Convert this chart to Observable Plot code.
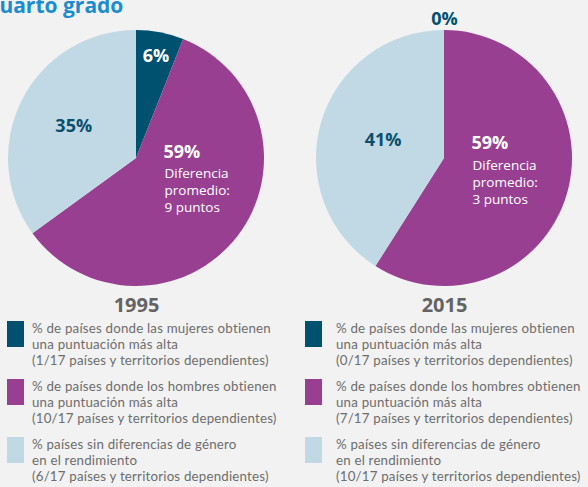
<!DOCTYPE html>
<html>
<head>
<meta charset="utf-8">
<script src="https://cdn.jsdelivr.net/npm/d3@7"></script>
<script src="https://cdn.jsdelivr.net/npm/@observablehq/plot@0.6"></script>
<style>
  html, body { margin: 0; padding: 0; background: #f2f2f2; }
  body { width: 588px; height: 487px; overflow: hidden; position: relative; font-family: "Open Sans", sans-serif; }
  #title { position: absolute; left: -14px; top: -9px; font-size: 21px; font-weight: bold; color: #1a8ccf; white-space: nowrap; }
  #chart { position: absolute; left: 0; top: 0; }
  .legend { position: absolute; top: 320px; }
  .item { display: flex; align-items: flex-start; margin-bottom: 10px; }
  .sw { width: 17px; height: 26px; flex: none; margin-top: 1px; }
  .txt { font-family: Lato, sans-serif; font-size: 13.3px; line-height: 16px; color: #6d6d6d; white-space: nowrap; letter-spacing: 0.2px; }
</style>
</head>
<body>
<div id="title">Cuarto grado</div>
<div id="chart"></div>
<div class="legend" id="legL" style="left:7px"></div>
<div class="legend" id="legR" style="left:305px"></div>
<script>
const years = ["1995", "2015"];
const categories = ["mujeres", "hombres", "sin diferencia"];
const values1995 = [6, 59, 35];
const values2015 = [0, 59, 41];
const pctLabels1995 = ["6%", "59%", "35%"];
const pctLabels2015 = ["0%", "59%", "41%"];
const gapText1995 = "Diferencia\npromedio:\n9 puntos";
const gapText2015 = "Diferencia\npromedio:\n3 puntos";
const legendMain = [
  ["% de países donde las mujeres obtienen", "una puntuación más alta"],
  ["% de países donde los hombres obtienen", "una puntuación más alta"],
  ["% países sin diferencias de género", "en el rendimiento"]
];
const legendCounts1995 = ["(1/17 países y territorios dependientes)", "(10/17 países y territorios dependientes)", "(6/17 países y territorios dependientes)"];
const legendCounts2015 = ["(0/17 países y territorios dependientes)", "(7/17 países y territorios dependientes)", "(10/17 países y territorios dependientes)"];

const colors = ["#00506f", "#993f92", "#c0d9e5"];
const textColors = ["#ffffff", "#ffffff", "#0b4f6c"];

const valuesByYear = {"1995": values1995, "2015": values2015};
const pctByYear = {"1995": pctLabels1995, "2015": pctLabels2015};
const gapByYear = {"1995": gapText1995, "2015": gapText2015};
const countsByYear = {"1995": legendCounts1995, "2015": legendCounts2015};

const W = 588, H = 316, R = 128, CY = 158;

// slices
const slices = [];
for (const year of years) {
  const arcs = d3.pie().sort(null).value(d => d)(valuesByYear[year]);
  arcs.forEach((a, i) => slices.push({year, cat: categories[i], i, start: a.startAngle, end: a.endAngle, value: a.data}));
}

// label placement (layout): radius factor for % labels
const labelRadius = {"1995": [0.81, null, 0.55], "2015": [1.09, null, 0.5]};
const pctRows = [];
for (const s of slices) {
  const f = labelRadius[s.year][s.i];
  if (f == null) continue;
  const mid = (s.start + s.end) / 2;
  pctRows.push({year: s.year, text: pctByYear[s.year][s.i], dx: Math.sin(mid) * R * f, dy: -Math.cos(mid) * R * f,
    color: s.value === 0 ? colors[0] : textColors[s.i]});
}
const bigDy = {"1995": -1, "2015": -10};
const gapDy = {"1995": 7.4, "2015": -0.6};

const pieMark = (index, scales) => {
  const g = d3.create("svg:g");
  const arc = d3.arc().innerRadius(0).outerRadius(R);
  for (const s of slices) {
    const cx = scales.x(s.year);
    g.append("path")
      .attr("transform", `translate(${cx},${CY})`)
      .attr("d", arc({startAngle: s.start, endAngle: s.end}))
      .attr("fill", colors[s.i])
      .attr("stroke", s.value === 0 ? colors[s.i] : "none")
      .attr("stroke-width", s.value === 0 ? 2.2 : 0);
  }
  return g.node();
};

const plot = Plot.plot({
  width: W,
  height: H,
  marginLeft: 136,
  marginRight: 144,
  marginTop: 0,
  marginBottom: 0,
  style: {background: "transparent", fontFamily: "Open Sans, sans-serif", overflow: "visible"},
  x: {type: "point", domain: years, padding: 0, axis: null},
  y: {type: "linear", domain: [H, 0], range: [H, 0], axis: null},
  marks: [
    pieMark,
    ...pctRows.map(r => Plot.text([r], {x: "year", y: () => CY, text: "text", dx: r.dx, dy: r.dy,
      fill: r.color, fontSize: 18, fontWeight: "bold", textAnchor: "middle", lineAnchor: "middle"})),
    ...years.map(y => Plot.text([y], {x: d => d, y: () => CY, text: d => pctByYear[d][1],
      dx: 27, dy: bigDy[y], fill: "white", fontSize: 18, fontWeight: "bold", textAnchor: "start", lineAnchor: "bottom"})),
    ...years.map(y => Plot.text([y], {x: d => d, y: () => CY, text: d => gapByYear[d],
      dx: 28, dy: gapDy[y], fill: "white", fontSize: 13.5, lineHeight: 1.26, textAnchor: "start", lineAnchor: "top"})),
    Plot.text(years, {x: d => d, y: () => 311, text: d => d, fill: "#636363", fontSize: 20, fontWeight: "bold", textAnchor: "middle", lineAnchor: "bottom"})
  ]
});
document.getElementById("chart").append(plot);

// legends
function buildLegend(el, year) {
  categories.forEach((c, i) => {
    const item = document.createElement("div");
    item.className = "item";
    const sw = document.createElement("div");
    sw.className = "sw";
    sw.style.background = colors[i];
    const txt = document.createElement("div");
    txt.className = "txt";
    txt.style.marginLeft = year === "1995" ? "8px" : "14px";
    txt.innerHTML = [...legendMain[i], countsByYear[year][i]].join("<br>");
    item.append(sw, txt);
    el.append(item);
  });
}
buildLegend(document.getElementById("legL"), "1995");
buildLegend(document.getElementById("legR"), "2015");
</script>
</body>
</html>
